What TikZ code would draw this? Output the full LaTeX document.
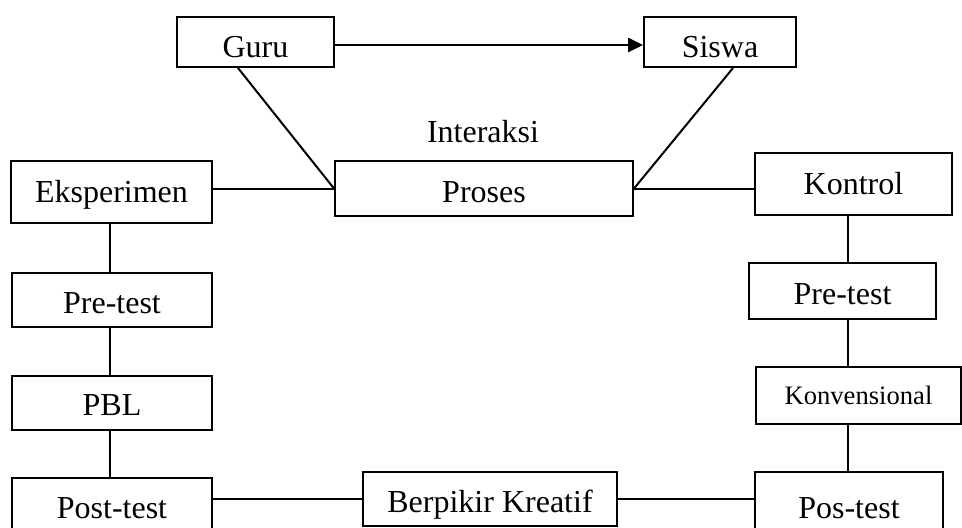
\documentclass[tikz,border=0pt]{standalone}
\usepackage{fontspec}
\setmainfont{Liberation Serif}
\usetikzlibrary{arrows.meta}
\begin{document}
\begin{tikzpicture}[x=0.5pt,y=-0.5pt,
  box/.style={draw=black,line width=1pt,inner sep=0pt,align=center,
    font=\fontsize{16pt}{19pt}\selectfont,text depth=0pt,text height=13.5pt},
  conn/.style={draw=black,line width=1pt},
  arr/.style={draw=black,line width=1.4pt,-{Triangle[length=7.5pt,width=7pt]}},
  lbl/.style={inner sep=0pt,font=\fontsize{16pt}{19pt}\selectfont,text depth=0pt,text height=10.5pt}]
\useasboundingbox (0,0) rectangle (962,527);
% top row
\node[box,minimum width=78.5pt,minimum height=25pt,text height=15.5pt] (guru) at (255.5,42) {Guru};
\node[box,minimum width=76pt,minimum height=25pt,text height=15.5pt] (siswa) at (720,42) {Siswa};
\node[lbl] (interaksi) at (483,132) {Interaksi};
% middle row
\node[box,minimum width=100.5pt,minimum height=31pt,text height=10.5pt] (eks) at (111.5,192) {Eksperimen};
\node[box,minimum width=149pt,minimum height=27.5pt] (proses) at (484,188.5) {Proses};
\node[box,minimum width=98.5pt,minimum height=31pt,text height=10.5pt] (kontrol) at (853.5,184) {Kontrol};
% left column
\node[box,minimum width=100pt,minimum height=27pt] (preL) at (112,300) {Pre-test};
\node[box,minimum width=100pt,minimum height=27pt,text height=12.5pt] (pbl) at (112,403) {PBL};
\node[box,minimum width=100pt,minimum height=27pt,text height=13pt] (postL) at (112,505) {Post-test};
% right column
\node[box,minimum width=93.5pt,minimum height=28pt] (preR) at (842.5,291) {Pre-test};
\node[box,minimum width=102.5pt,minimum height=28.5pt,font=\fontsize{13.3pt}{16pt}\selectfont,text height=8.8pt] (konv) at (858.5,395.5) {Konvensional};
\node[box,minimum width=94pt,minimum height=34pt,text height=12.5pt] (posR) at (849,506) {Pos-test};
% bottom middle
\node[box,minimum width=127pt,minimum height=27pt] (kreatif) at (490,499) {Berpikir Kreatif};
\coordinate (vx) at (848,0);
\coordinate (vl) at (110,0);
% connectors
\draw[arr] ([yshift=-1.5pt]guru.east) -- ([yshift=-1.5pt]siswa.west);
\draw[conn] ([xshift=-8.75pt]guru.south) -- (proses.west);
\draw[conn] ([xshift=6.5pt]siswa.south) -- (proses.east);
\draw[conn] (proses.west -| eks.east) -- (proses.west);
\draw[conn] (proses.east) -- (proses.east -| kontrol.west);
\draw[conn] (eks.south -| vl) -- (preL.north -| vl);
\draw[conn] (preL.south -| vl) -- (pbl.north -| vl);
\draw[conn] (pbl.south -| vl) -- (postL.north -| vl);
\draw[conn] (kreatif.west -| postL.east) -- (kreatif.west);
\draw[conn] (kreatif.east) -- (kreatif.east -| posR.west);
\draw[conn] (kontrol.south -| vx) -- (preR.north -| vx);
\draw[conn] (preR.south -| vx) -- (konv.north -| vx);
\draw[conn] (konv.south -| vx) -- (posR.north -| vx);
\end{tikzpicture}
\end{document}
